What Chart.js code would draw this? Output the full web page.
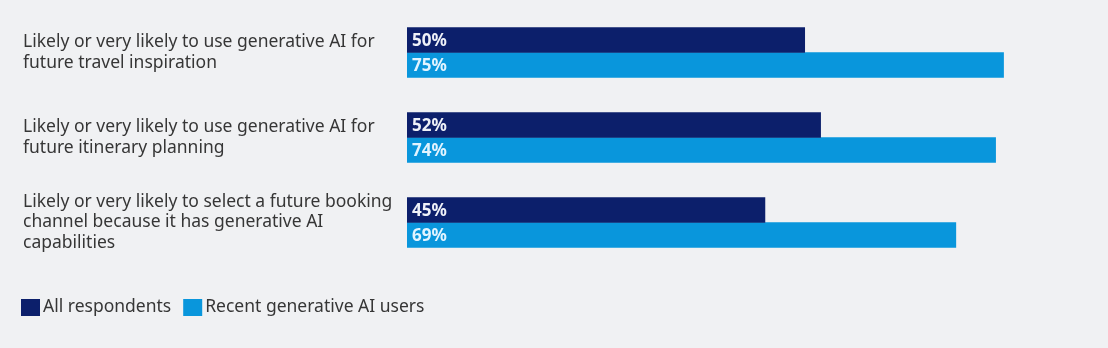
<!DOCTYPE html>
<html>
<head>
<meta charset="utf-8">
<script src="https://cdn.jsdelivr.net/npm/chart.js@4.4.0/dist/chart.umd.min.js"></script>
<style>
  html, body { margin: 0; padding: 0; background: #f0f1f3; }
  #wrap { width: 1108px; height: 348px; position: relative; }
</style>
</head>
<body>
<div id="wrap"><canvas id="genAiChart"></canvas></div>
<script>
// survey statements, one per group (multi-line labels)
const statements = [
  ['Likely or very likely to use generative AI for', 'future travel inspiration'],
  ['Likely or very likely to use generative AI for', 'future itinerary planning'],
  ['Likely or very likely to select a future booking', 'channel because it has generative AI', 'capabilities']
];

const seriesNames = ['All respondents', 'Recent generative AI users'];
const allRespondents = [50, 52, 45];
const recentAiUsers = [75, 74, 69];

const NAVY = '#0c1f6b';
const SKY = '#0996dc';
const FONT = '"Noto Sans", "Open Sans", sans-serif';

// writes "NN%" inside the start of every bar
const barValueLabels = {
  id: 'barValueLabels',
  afterDatasetsDraw(chart) {
    const ctx = chart.ctx;
    ctx.save();
    ctx.font = `bold 17px ${FONT}`;
    ctx.textAlign = 'left';
    ctx.textBaseline = 'middle';
    chart.data.datasets.forEach((ds, i) => {
      chart.getDatasetMeta(i).data.forEach((bar, j) => {
        ctx.fillStyle = i === 0 ? '#eef1f8' : '#e2f4ff';
        ctx.fillText(ds.data[j] + '%', bar.base + 5, bar.y + 1);
      });
    });
    ctx.restore();
  }
};

// square swatches + series names under the plot
const bottomLegend = {
  id: 'bottomLegend',
  afterDraw(chart) {
    const ctx = chart.ctx;
    ctx.save();
    ctx.font = `17.5px ${FONT}`;
    ctx.textBaseline = 'middle';
    let x = 21;
    const y = 307;
    chart.data.datasets.forEach(ds => {
      ctx.fillStyle = ds.backgroundColor;
      ctx.fillRect(x, y - 8, 19, 17);
      x += 19 + 3;
      ctx.fillStyle = '#363636';
      ctx.fillText(ds.label, x, y);
      x += ctx.measureText(ds.label).width + 12;
    });
    ctx.restore();
  }
};

new Chart(document.getElementById('genAiChart').getContext('2d'), {
  type: 'bar',
  data: {
    labels: statements,
    datasets: [
      { label: seriesNames[0], data: allRespondents, backgroundColor: NAVY, barThickness: 25 },
      { label: seriesNames[1], data: recentAiUsers, backgroundColor: SKY, barThickness: 25 }
    ]
  },
  options: {
    indexAxis: 'y',
    responsive: true,
    maintainAspectRatio: false,
    animation: false,
    layout: { padding: { left: 23, right: 9, top: 10, bottom: 83 } },
    scales: {
      x: { display: false, min: 0, max: 87 },
      y: {
        grid: { display: false },
        border: { display: false },
        ticks: {
          crossAlign: 'far',
          color: '#363636',
          font: { family: FONT, size: 17.5, lineHeight: 1.15 }
        },
        afterFit(scale) {
          scale.width = 384;
          scale.paddingTop = 0;
          scale.paddingBottom = 0;
        }
      }
    },
    plugins: {
      legend: { display: false },
      tooltip: { enabled: false }
    }
  },
  plugins: [barValueLabels, bottomLegend]
});
</script>
</body>
</html>
